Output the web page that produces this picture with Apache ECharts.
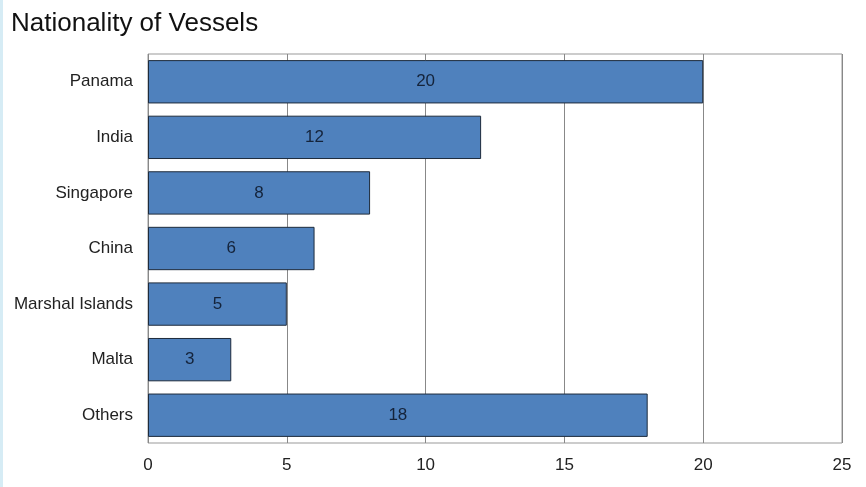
<!DOCTYPE html>
<html><head><meta charset="utf-8">
<script src="https://cdn.jsdelivr.net/npm/echarts@6/dist/echarts.min.js"></script>
<style>
html,body{margin:0;padding:0;background:#fff;}
#stripe{position:absolute;left:0;top:0;width:3px;height:487px;background:#d6ecf5;}
#c{position:absolute;left:0;top:0;width:866px;height:487px;}
</style></head><body>
<div id="stripe"></div>
<div id="c"></div>
<script>
const categories = ["Panama","India","Singapore","China","Marshal Islands","Malta","Others"];
const values = [20,12,8,6,5,3,18];
const xTicks = [0,5,10,15,20,25];

const chart = echarts.init(document.getElementById('c'));
chart.setOption({
  animation:false,
  title:{text:"Nationality of Vessels",left:6,top:6,textStyle:{fontFamily:"Liberation Sans, Noto Sans, sans-serif",fontSize:26,fontWeight:"normal",color:"#111"}},
  grid:{left:148,right:24,top:54,bottom:44,show:true,borderColor:"#999",borderWidth:1},
  xAxis:{type:"value",min:xTicks[0],max:xTicks[xTicks.length-1],interval:5,
    axisLine:{show:false},axisTick:{show:false},
    splitLine:{lineStyle:{color:"#888",width:1}},
    axisLabel:{fontFamily:"Liberation Sans, sans-serif",fontSize:17,color:"#222",margin:14}},
  yAxis:{type:"category",data:categories,inverse:true,
    axisLine:{show:false},axisTick:{show:false},
    axisLabel:{fontFamily:"Liberation Sans, sans-serif",fontSize:17,color:"#222",margin:15}},
  series:[{type:"bar",data:values,barCategoryGap:"22%",
    itemStyle:{color:"#4f81bd",borderColor:"#1e2b3c",borderWidth:1},
    label:{show:true,position:"inside",fontFamily:"Liberation Sans, sans-serif",fontSize:17,color:"#14233a"}}]
});
</script></body></html>
